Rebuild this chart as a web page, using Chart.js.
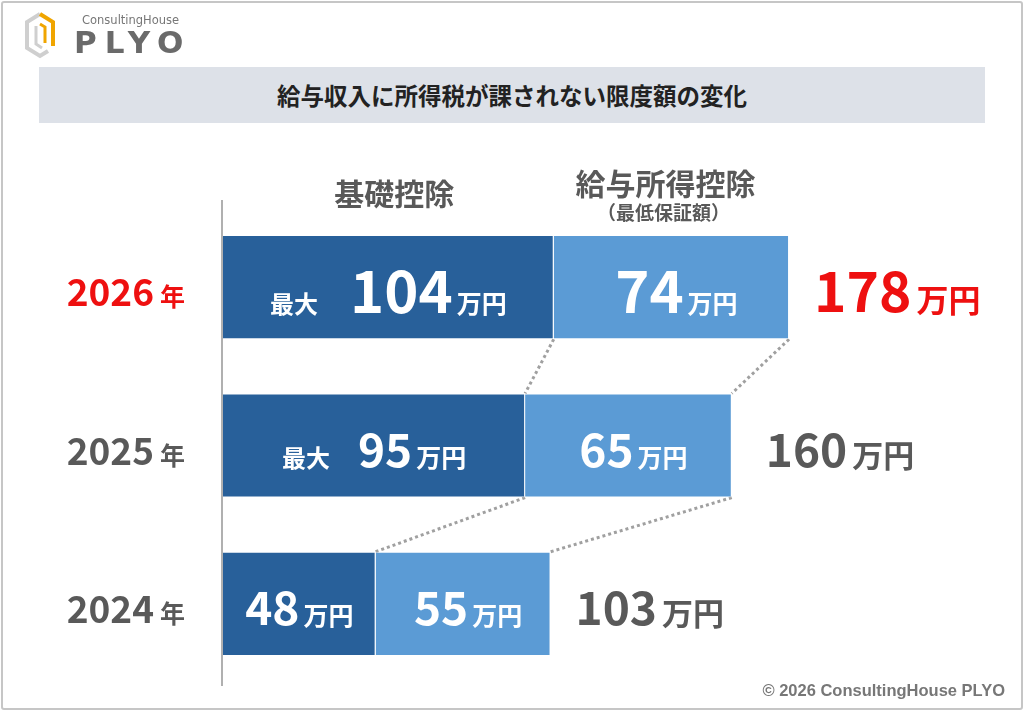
<!DOCTYPE html>
<html>
<head>
<meta charset="utf-8">
<script src="https://cdn.jsdelivr.net/npm/chart.js@4"></script>
<style>
  html, body { margin: 0; padding: 0; background: #fff; }
  #page { position: relative; width: 1024px; height: 711px; overflow: hidden; font-family: "Noto Sans CJK JP", sans-serif; }
  #frame { position: absolute; left: 1px; top: 1px; width: 1018px; height: 705px; border: 2px solid #c6c6c6; border-radius: 3px; }
  #chartBox { position: absolute; left: 0; top: 0; width: 1024px; height: 711px; }
  #logo { position: absolute; left: 24px; top: 10px; width: 170px; height: 50px; }
  #logo .sub { position: absolute; left: 58px; top: 3px; font: 11.5px "DejaVu Sans", sans-serif; color: #777; }
  #logo .main { position: absolute; left: 50px; top: 14px; font: bold 31px "DejaVu Sans", sans-serif; color: #6a6a6a; letter-spacing: 8px; }
  #banner { position: absolute; left: 39px; top: 67px; width: 946px; height: 56px; background: #dde1e8; }
  #banner div { text-align: center; line-height: 56px; font-weight: bold; font-size: 23.5px; color: #222; }
  #copy { position: absolute; right: 19px; bottom: 11px; font: bold 16.5px "Liberation Sans", Arial, sans-serif; color: #777; }
</style>
</head>
<body>
<div id="page">
  <div id="chartBox"><canvas id="myChart"></canvas></div>
  <div id="frame"></div>
  <div id="logo">
    <svg width="40" height="50" viewBox="0 0 40 50" style="position:absolute;left:0;top:0">
      <polyline points="16,4 3,12 3,38 16,46 24,41" fill="none" stroke="#cfcfcf" stroke-width="4"/>
      <polyline points="16,4 29,12 29,36" fill="none" stroke="#f0a500" stroke-width="4"/>
      <polyline points="12,16 12,34 18,38" fill="none" stroke="#cfcfcf" stroke-width="3"/>
      <polyline points="16,14 21,17 21,33" fill="none" stroke="#f0a500" stroke-width="3"/>
    </svg>
    <div class="sub">ConsultingHouse</div>
    <div class="main">PLYO</div>
  </div>
  <div id="banner"><div id="title"></div></div>
  <div id="copy">© 2026 ConsultingHouse PLYO</div>
</div>
<script>
// values (万円)
var years = ["2026", "2025", "2024"];
var yearUnit = "年";
var basicDeduction = [104, 95, 48];
var salaryDeduction = [74, 65, 55];
var totals = [178, 160, 103];
var basicPrefix = ["最大", "最大", ""];
var seriesNames = ["基礎控除", "給与所得控除"];
var salaryNote = "（最低保証額）";
var unit = "万円";
var chartTitle = "給与収入に所得税が課されない限度額の変化";

document.getElementById("title").textContent = chartTitle;

var FONT = '"Noto Sans CJK JP", "Noto Sans", sans-serif';
var DARK = "#28609a";
var LIGHT = "#5b9bd5";
var RED = "#ee1010";
var GRAY = "#595959";
var highlightRow = 0;

// draws a row of text pieces sharing one baseline, centred (or left/right aligned) on x
function drawPieces(ctx, pieces, x, y, align) {
  var widths = [], total = 0;
  pieces.forEach(function (p) {
    ctx.font = "bold " + p.size + "px " + FONT;
    var w = ctx.measureText(p.text).width;
    widths.push(w);
    total += w + (p.gap || 0);
  });
  var cx = align === "left" ? x : (align === "right" ? x - total : x - total / 2);
  ctx.textAlign = "left";
  ctx.textBaseline = "alphabetic";
  pieces.forEach(function (p, i) {
    ctx.font = "bold " + p.size + "px " + FONT;
    ctx.fillStyle = p.color;
    ctx.fillText(p.text, cx, y);
    cx += widths[i] + (p.gap || 0);
  });
}

var decorations = {
  id: "decorations",
  beforeDatasetsDraw: function (chart) {
    var ctx = chart.ctx, ca = chart.chartArea;
    var m0 = chart.getDatasetMeta(0).data, m1 = chart.getDatasetMeta(1).data;
    ctx.save();
    // axis line
    ctx.strokeStyle = "#b0b0b0";
    ctx.lineWidth = 2;
    var x0 = chart.scales.x.getPixelForValue(0) - 1;
    ctx.beginPath();
    ctx.moveTo(x0, ca.top - 8);
    ctx.lineTo(x0, ca.bottom + 3);
    ctx.stroke();
    // dotted connectors between rows
    ctx.strokeStyle = "#a0a0a0";
    ctx.lineWidth = 3;
    ctx.setLineDash([3, 3]);
    for (var i = 0; i < years.length - 1; i++) {
      [m0, m1].forEach(function (m) {
        var a = m[i], b = m[i + 1];
        ctx.beginPath();
        ctx.moveTo(a.x, a.y + a.height / 2);
        ctx.lineTo(b.x, b.y - b.height / 2);
        ctx.stroke();
      });
    }
    ctx.restore();
  },
  afterDatasetsDraw: function (chart) {
    var ctx = chart.ctx, ca = chart.chartArea;
    var m0 = chart.getDatasetMeta(0).data, m1 = chart.getDatasetMeta(1).data;
    ctx.save();
    // column headers over the top row
    var h0 = (m0[0].base + m0[0].x) / 2, h1 = (m1[0].base + m1[0].x) / 2;
    ctx.fillStyle = GRAY;
    ctx.textAlign = "center";
    ctx.textBaseline = "middle";
    ctx.font = "bold 30px " + FONT;
    ctx.fillText(seriesNames[0], h0 + 6, ca.top - 14);
    ctx.fillText(seriesNames[1], h1 - 6, ca.top - 24);
    ctx.font = "bold 19px " + FONT;
    ctx.fillText(salaryNote, h1 - 8, ca.top + 5);

    for (var i = 0; i < years.length; i++) {
      var big = i === highlightRow;
      var numSize = big ? 58 : 46;
      var yc = m0[i].y;
      var base = yc + 5 + numSize * 0.36;
      // basic deduction label
      var p0 = [];
      if (basicPrefix[i]) p0.push({ text: basicPrefix[i], size: 24, color: "#fff", gap: big ? 32 : 28 });
      p0.push({ text: String(basicDeduction[i]), size: numSize, color: "#fff", gap: 4 });
      p0.push({ text: unit, size: 25, color: "#fff" });
      drawPieces(ctx, p0, (m0[i].base + m0[i].x) / 2, base);
      // salary deduction label
      drawPieces(ctx, [
        { text: String(salaryDeduction[i]), size: numSize, color: "#fff", gap: 4 },
        { text: unit, size: 25, color: "#fff" }
      ], (m1[i].base + m1[i].x) / 2 + 5, base);
      // total to the right
      var tSize = big ? 55 : 46;
      drawPieces(ctx, [
        { text: String(totals[i]), size: tSize, color: big ? RED : GRAY, gap: 5 },
        { text: unit, size: big ? 32 : 31, color: big ? RED : GRAY }
      ], m1[i].x + (i === 1 ? 34 : 25), yc + 5 + tSize * 0.36, "left");
      // year label on the left
      drawPieces(ctx, [
        { text: years[i], size: 37, color: big ? RED : GRAY, gap: 6 },
        { text: yearUnit, size: 25, color: big ? RED : GRAY }
      ], ca.left - 38, yc + 6 + 37 * 0.36, "right");
    }
    ctx.restore();
  }
};

var ctx = document.getElementById("myChart");
var myChart = new Chart(ctx, {
  type: "bar",
  data: {
    labels: years,
    datasets: [
      { label: seriesNames[0], data: basicDeduction, backgroundColor: DARK, borderColor: "rgba(255,255,255,0.55)", borderWidth: 1 },
      { label: seriesNames[1], data: salaryDeduction, backgroundColor: LIGHT, borderColor: "rgba(255,255,255,0.55)", borderWidth: 1 }
    ]
  },
  options: {
    indexAxis: "y",
    responsive: true,
    maintainAspectRatio: false,
    animation: false,
    layout: { padding: { left: 223, right: 165, top: 208, bottom: 28 } },
    datasets: { bar: { categoryPercentage: 1, barPercentage: 0.658 } },
    scales: {
      x: { stacked: true, min: 0, max: 200, display: false },
      y: { stacked: true, display: false }
    },
    plugins: { legend: { display: false }, tooltip: { enabled: false } }
  },
  plugins: [decorations]
});
</script>
</body>
</html>
